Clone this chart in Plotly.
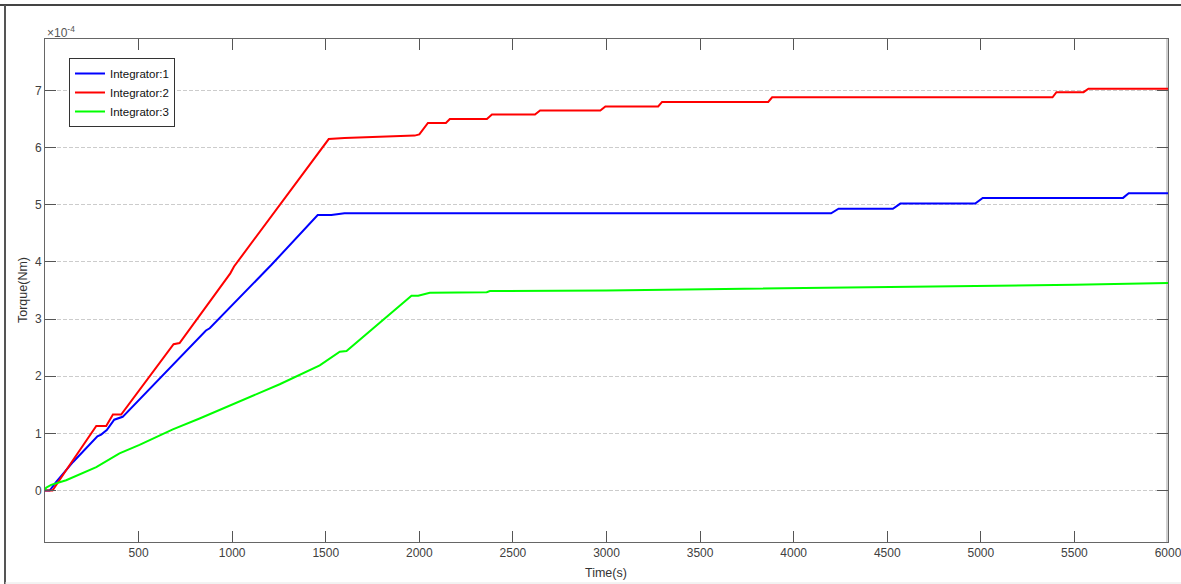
import plotly.graph_objects as go

# Values in units of 1e-4 Nm
t1 = [0, 25, 60, 150, 280, 300, 330, 370, 415, 600, 860, 880, 1000, 1190, 1210, 1457, 1530, 1600,
      4200, 4240, 4530, 4570, 4970, 5010, 5760, 5790, 6000]
y1 = [0, 0, 0.15, 0.5, 0.95, 0.98, 1.06, 1.24, 1.29, 1.92, 2.80, 2.84, 3.25, 3.89, 3.95, 4.82, 4.82, 4.85,
      4.85, 4.93, 4.93, 5.02, 5.02, 5.12, 5.12, 5.20, 5.20]

t2 = [0, 40, 122, 274, 327, 363, 407, 687, 719, 990, 1010, 1516, 1600, 1975, 2000, 2046, 2142, 2163,
      2361, 2388, 2618, 2645, 2967, 2994, 3276, 3297, 3864, 3885, 5383, 5404, 5549, 5575, 6000]
y2 = [0, 0, 0.40, 1.13, 1.13, 1.33, 1.33, 2.56, 2.58, 3.80, 3.92, 6.15, 6.17, 6.21, 6.23, 6.43, 6.43, 6.50,
      6.50, 6.58, 6.58, 6.65, 6.65, 6.72, 6.72, 6.80, 6.80, 6.88, 6.88, 6.97, 6.97, 7.03, 7.03]

t3 = [0, 6, 33, 113, 274, 327, 398, 505, 683, 826, 1254, 1468, 1539, 1575, 1611, 1958, 1994, 2056,
      2360, 2377, 3000, 3500, 4000, 4500, 5000, 5500, 6000]
y3 = [0, 0.05, 0.10, 0.18, 0.41, 0.51, 0.65, 0.80, 1.07, 1.26, 1.86, 2.19, 2.35, 2.43, 2.44, 3.41, 3.41, 3.46,
      3.47, 3.49, 3.50, 3.52, 3.53, 3.55, 3.57, 3.60, 3.63]

series_names = ["Integrator:1", "Integrator:2", "Integrator:3"]
series_colors = ["#0000FF", "#FF0000", "#00FF00"]

x_ticks = [500, 1000, 1500, 2000, 2500, 3000, 3500, 4000, 4500, 5000, 5500, 6000]
y_ticks = [0, 1, 2, 3, 4, 5, 6, 7]

W, H = 1181, 584
ML, MR, MT, MB = 45, 13, 39, 42
PW = W - ML - MR
PH = H - MT - MB


def px(x):
    return (x - ML) / PW


def py(y):
    return (H - MB - y) / PH


fig = go.Figure()
for t, y, n, c in zip([t1, t2, t3], [y1, y2, y3], series_names, series_colors):
    fig.add_trace(go.Scatter(x=t, y=y, mode="lines", name=n,
                             line=dict(color=c, width=2)))

FONT = "Liberation Sans, Arial, sans-serif"
axis_font = dict(family=FONT, size=12, color="#404040")

fig.update_layout(
    width=W, height=H,
    margin=dict(l=ML, r=MR, t=MT, b=MB, pad=0, autoexpand=False),
    paper_bgcolor="white", plot_bgcolor="white",
    font=dict(family=FONT, size=12, color="#404040"),
    xaxis=dict(range=[0, 6000], tickvals=x_ticks, ticks="inside", ticklen=11, tickcolor="#555555",
               showline=True, linecolor="#666666", linewidth=1, mirror="ticks",
               showgrid=False, zeroline=False, tickfont=axis_font, automargin=False,
               ticklabeloverflow="allow"),
    yaxis=dict(range=[-0.9, 7.9], tickvals=y_ticks, ticks="inside", ticklen=11, tickcolor="#555555",
               showline=True, linecolor="#666666", linewidth=1, mirror="ticks",
               showgrid=True, gridcolor="#cccccc", griddash="4px,2px", gridwidth=1,
               zeroline=False, tickfont=axis_font, automargin=False),
    showlegend=True,
    legend=dict(x=px(69), y=py(58), xanchor="left", yanchor="top",
                bgcolor="white", bordercolor="#333333", borderwidth=1,
                font=dict(family=FONT, size=11.5, color="#111111"),
                tracegroupgap=0),
    annotations=[
        dict(text="Time(s)", x=px(606), y=py(573), xref="paper", yref="paper",
             xanchor="center", yanchor="middle",
             showarrow=False, font=dict(family=FONT, size=12.5, color="#333333")),
        dict(text="Torque(Nm)", x=px(23), y=py(290), xref="paper", yref="paper",
             xanchor="center", yanchor="middle",
             showarrow=False, textangle=-90, font=dict(family=FONT, size=12.5, color="#333333")),
        dict(text="×10<sup>-4</sup>", x=px(45), y=py(32), xref="paper", yref="paper",
             xanchor="left", yanchor="middle", showarrow=False,
             font=dict(family=FONT, size=12, color="#555555")),
    ],
    shapes=[
        dict(type="line", xref="paper", yref="paper", x0=px(1167), x1=px(1167), y0=0, y1=1,
             line=dict(color="#d0d0d0", width=2), layer="below"),
        dict(type="line", xref="paper", yref="paper", x0=px(0), x1=px(1181), y0=py(5), y1=py(5),
             line=dict(color="#444444", width=2)),
        dict(type="line", xref="paper", yref="paper", x0=px(5), x1=px(5), y0=py(5), y1=py(584),
             line=dict(color="#555555", width=2)),
        dict(type="line", xref="paper", yref="paper", x0=px(5), x1=px(1181), y0=py(583), y1=py(583),
             line=dict(color="#e6e6e6", width=1)),
    ],
)

fig.write_html("out.html", config={"displayModeBar": False},
               post_script="document.body.style.margin='0';document.body.style.padding='0';")
